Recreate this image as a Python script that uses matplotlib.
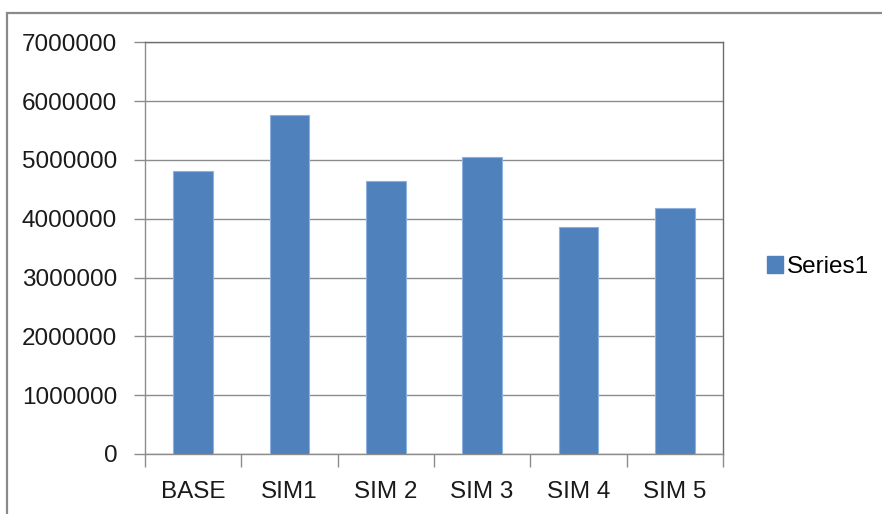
import matplotlib
matplotlib.use("Agg")
import matplotlib.pyplot as plt
from matplotlib.patches import Patch, Rectangle
import numpy as np

categories = ["BASE", "SIM1", "SIM 2", "SIM 3", "SIM 4", "SIM 5"]
values = [4810000, 5770000, 4640000, 5050000, 3860000, 4190000]
yticks = [0, 1000000, 2000000, 3000000, 4000000, 5000000, 6000000, 7000000]
series_name = "Series1"

W, H = 882, 514
fig = plt.figure(figsize=(W / 100, H / 100), dpi=100)
fig.patch.set_facecolor("white")

# outer chart frame
fig.patches.append(Rectangle((6.5 / W, -0.1), 1.2, 1 - 12.5 / H + 0.1,
                             transform=fig.transFigure, fill=False,
                             edgecolor="#8a8a8a", linewidth=1.6))

ax = fig.add_axes([145 / W, 1 - 454 / H, (723 - 145) / W, (454 - 42.3) / H])

num_font = ["Liberation Sans", "DejaVu Sans"]
txt_font = ["Liberation Sans Narrow", "Liberation Sans", "DejaVu Sans"]
fs = 17.5

x = np.arange(len(categories))
ax.bar(x, values, width=0.41, color="#4F81BD", edgecolor="#8fb1dd",
       linewidth=0.8, zorder=3)

ax.set_xlim(-0.5, len(categories) - 0.5)
ax.set_ylim(0, 7000000)
ax.set_yticks(yticks)
ax.set_yticklabels([str(v) for v in yticks], family=num_font, fontsize=fs,
                   color="#1a1a1a")
ax.yaxis.grid(True, color="#8c8c8c", linewidth=1.0, zorder=0)
ax.set_axisbelow(True)

ax.set_xticks(x)
ax.set_xticklabels(categories, family=txt_font, fontsize=fs, color="#1a1a1a")
ax.set_xticks(np.arange(len(categories) + 1) - 0.5, minor=True)
ax.tick_params(axis="x", which="major", length=0, pad=19.5)
ax.tick_params(axis="x", which="minor", length=9, width=1.0, color="#8c8c8c",
               direction="out")
ax.tick_params(axis="y", which="major", length=8, width=1.0, color="#8c8c8c",
               direction="out", pad=12)

for s in ["left", "bottom"]:
    ax.spines[s].set_color("#8c8c8c")
    ax.spines[s].set_linewidth(1.0)
for s in ["top", "right"]:
    ax.spines[s].set_color("#6e6e6e")
    ax.spines[s].set_linewidth(1.0)

handle = Patch(facecolor="#4F81BD", edgecolor="#4F81BD")
leg = ax.legend([handle], [series_name], loc="center left",
                bbox_to_anchor=(766.7 / W, 1 - 267 / H),
                bbox_transform=fig.transFigure, frameon=False,
                prop={"family": txt_font, "size": fs},
                handlelength=0.66, handleheight=0.66, handletextpad=0.18,
                borderpad=0, borderaxespad=0)

fig.savefig("out.png", dpi=100, facecolor="white")
